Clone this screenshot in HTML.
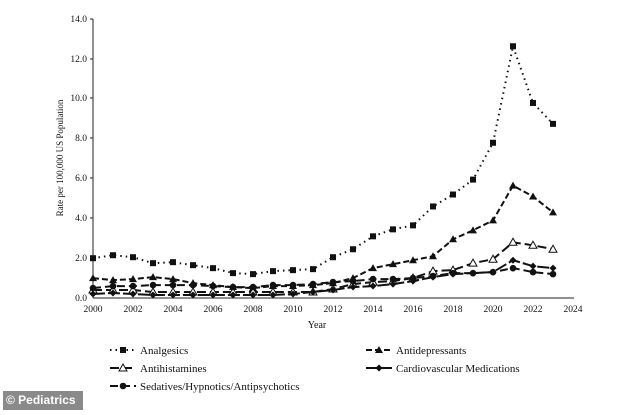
<!DOCTYPE html>
<html><head><meta charset="utf-8"><style>
body{margin:0;background:#fff;width:634px;height:410px;overflow:hidden;position:relative;font-family:"Liberation Serif",serif;}
svg text{font-family:"Liberation Serif",serif;fill:#111;}
.badge{position:absolute;left:3px;top:391px;width:80px;height:19px;background:#8a8a8a;color:#fff;font:bold 12px "Liberation Sans",sans-serif;line-height:19px;padding-left:3px;box-sizing:border-box;}
</style></head><body>
<svg id="s" width="634" height="410" xmlns="http://www.w3.org/2000/svg">
<g stroke="#222" stroke-width="1" fill="none">
<line x1="93" y1="19" x2="93" y2="298"/><line x1="93" y1="298" x2="574" y2="298"/>
<line x1="90" y1="19" x2="93" y2="19"/><line x1="90" y1="59" x2="93" y2="59"/><line x1="90" y1="98" x2="93" y2="98"/><line x1="90" y1="138" x2="93" y2="138"/><line x1="90" y1="178" x2="93" y2="178"/><line x1="90" y1="218" x2="93" y2="218"/><line x1="90" y1="258" x2="93" y2="258"/>
</g>
<g font-size="9.5" text-anchor="end">
<text x="87" y="22">14.0</text><text x="87" y="62">12.0</text><text x="87" y="101">10.0</text><text x="87" y="141">8.0</text><text x="87" y="181">6.0</text><text x="87" y="221">4.0</text><text x="87" y="261">2.0</text><text x="87" y="301">0.0</text>
</g>
<g font-size="9.5" text-anchor="middle">
<text x="93" y="312">2000</text><text x="133" y="312">2002</text><text x="173" y="312">2004</text><text x="213" y="312">2006</text><text x="253" y="312">2008</text><text x="293" y="312">2010</text><text x="333" y="312">2012</text><text x="373" y="312">2014</text><text x="413" y="312">2016</text><text x="453" y="312">2018</text><text x="493" y="312">2020</text><text x="533" y="312">2022</text><text x="573" y="312">2024</text>
<text x="317" y="328" font-size="10">Year</text>
</g>
<text font-size="9" transform="translate(63,158) rotate(-90)" text-anchor="middle">Rate per 100,000 US Population</text>
<g id="d"></g>
<g font-size="11">
<text x="140" y="354">Analgesics</text><text x="396" y="354">Antidepressants</text>
<text x="140" y="372">Antihistamines</text><text x="396" y="372">Cardiovascular Medications</text>
<text x="140" y="390">Sedatives/Hypnotics/Antipsychotics</text>
</g>
</svg>
<div class="badge">© Pediatrics</div>
<script>
var S=[
{d:[2.0,2.15,2.05,1.75,1.8,1.65,1.5,1.25,1.2,1.35,1.4,1.45,2.05,2.45,3.1,3.45,3.65,4.6,5.2,5.95,7.8,12.65,9.8,8.75],da:"1.5,4",m:"sq",lx:110,ly:350,tx:140},
{d:[1.0,0.9,0.95,1.05,0.95,0.75,0.65,0.55,0.5,0.6,0.6,0.65,0.75,1.0,1.5,1.7,1.9,2.1,2.95,3.4,3.9,5.65,5.1,4.3],da:"6,3",m:"tri",lx:366,ly:350,tx:396},
{d:[0.4,0.4,0.4,0.3,0.3,0.3,0.3,0.3,0.3,0.3,0.3,0.3,0.45,0.7,0.8,0.85,1.0,1.35,1.4,1.75,1.95,2.8,2.65,2.45],da:"9,4",m:"otri",lx:110,ly:368,tx:140},
{d:[0.2,0.25,0.2,0.15,0.15,0.15,0.15,0.15,0.15,0.15,0.2,0.3,0.4,0.55,0.6,0.7,0.85,1.05,1.2,1.25,1.3,1.9,1.6,1.5],da:"12,3",m:"dia",lx:366,ly:368,tx:396},
{d:[0.5,0.6,0.6,0.65,0.65,0.65,0.6,0.55,0.55,0.65,0.65,0.7,0.8,0.85,0.95,0.95,1.0,1.1,1.25,1.25,1.3,1.5,1.3,1.2],da:"8,4",m:"circ",lx:110,ly:386,tx:140}];
var g=document.getElementById('d'),h='';
function mk(t,x,y){
 if(t=="sq")return '<rect x="'+(x-3)+'" y="'+(y-3)+'" width="6" height="6" fill="#111"/>';
 if(t=="tri")return '<polygon points="'+x+','+(y-4)+' '+(x-4)+','+(y+3)+' '+(x+4)+','+(y+3)+'" fill="#111"/>';
 if(t=="otri")return '<polygon points="'+x+','+(y-4)+' '+(x-4)+','+(y+3)+' '+(x+4)+','+(y+3)+'" fill="#fff" stroke="#111"/>';
 if(t=="dia")return '<polygon points="'+x+','+(y-3.5)+' '+(x+3.5)+','+y+' '+x+','+(y+3.5)+' '+(x-3.5)+','+y+'" fill="#111"/>';
 return '<circle cx="'+x+'" cy="'+y+'" r="3.3" fill="#111"/>';}
S.forEach(function(s){var p=s.d.map(function(v,i){return (93+20*i)+','+(298-v*19.9).toFixed(1)}).join(' ');
 h+='<polyline points="'+p+'" fill="none" stroke="#111" stroke-width="2" stroke-dasharray="'+s.da+'"/>';
 s.d.forEach(function(v,i){h+=mk(s.m,93+20*i,298-v*19.9)});
 h+='<line x1="'+s.lx+'" y1="'+s.ly+'" x2="'+(s.lx+26)+'" y2="'+s.ly+'" stroke="#111" stroke-width="2" stroke-dasharray="'+s.da+'"/>'+mk(s.m,s.lx+13,s.ly);});
g.innerHTML=h;
</script>
</body></html>
